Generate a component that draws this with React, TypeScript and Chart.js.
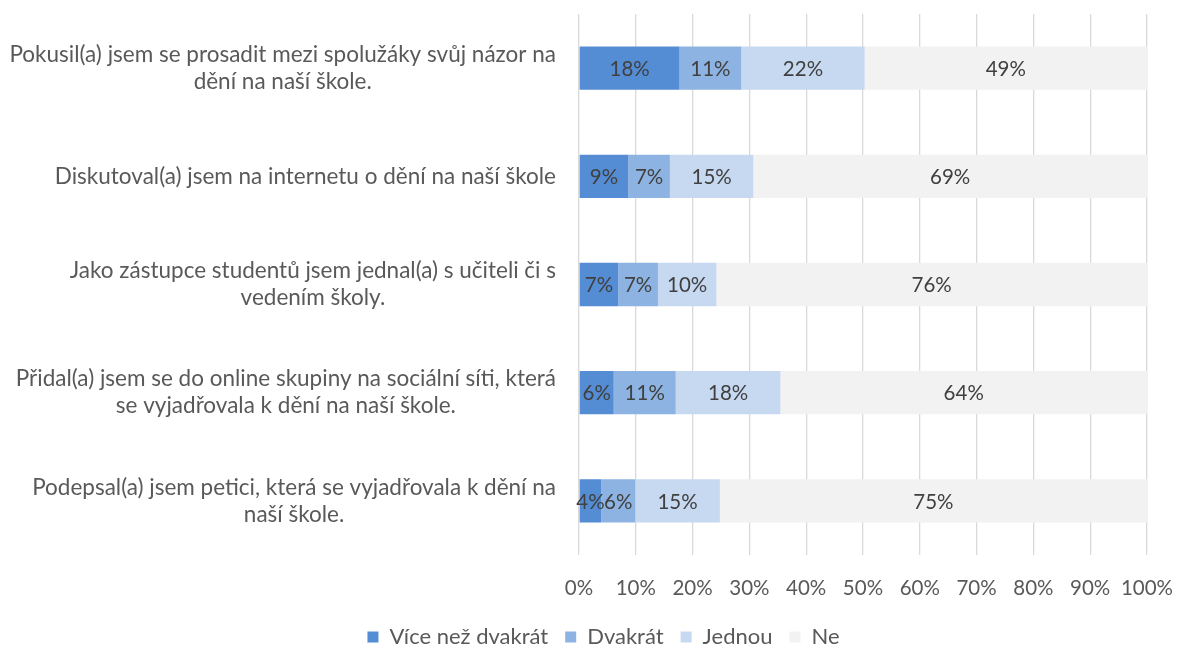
import React, { useEffect, useRef } from 'react';
import { Chart, registerables } from 'chart.js';

Chart.register(...registerables);

// Category labels (already wrapped as in the reference)
const categories: string[][] = [
  ['Pokusil(a) jsem se prosadit mezi spolužáky svůj názor na', 'dění na naší škole.'],
  ['Diskutoval(a) jsem na internetu o dění na naší škole'],
  ['Jako zástupce studentů jsem jednal(a) s učiteli či s', 'vedením školy.'],
  ['Přidal(a) jsem se do online skupiny na sociální síti, která', 'se vyjadřovala k dění na naší škole.'],
  ['Podepsal(a) jsem petici, která se vyjadřovala k dění na', 'naší škole.'],
];

const seriesNames = ['Více než dvakrát', 'Dvakrát', 'Jednou', 'Ne'];

// Percentages per category
const viceNezDvakrat = [17.6, 8.7, 6.9, 6.1, 3.9];
const dvakrat = [10.8, 7.3, 7.0, 10.9, 6.0];
const jednou = [21.6, 14.7, 10.3, 18.4, 14.9];
const ne = [49.4, 69.3, 75.8, 64.4, 75.2];

const seriesColors = ['#548DD4', '#8DB3E2', '#C6D9F1', '#F2F2F2'];

const xTickValues = [0, 10, 20, 30, 40, 50, 60, 70, 80, 90, 100];

const FONT = 'Lato, Carlito, Calibri, sans-serif';
const CAT_FS = 22.5;
const NUM_FS = 20.5;
const LEG_FS = 22;

const rawSeries = [viceNezDvakrat, dvakrat, jednou, ne];
const rowTotals = categories.map((_, i) => rawSeries.reduce((s, arr) => s + arr[i], 0));

const yLabelPlugin = {
  id: 'yLabelsCustom',
  afterDraw(chart: any) {
    const ctx = chart.ctx as CanvasRenderingContext2D;
    const y = chart.scales.y;
    const x = chart.scales.x;
    ctx.save();
    ctx.font = `${CAT_FS}px ${FONT}`;
    ctx.fillStyle = '#595959';
    ctx.textAlign = 'center';
    ctx.textBaseline = 'middle';
    const LH = 27;
    const rightEdge = x.left - 23;
    categories.forEach((lines, i) => {
      const cy = y.getPixelForValue(i);
      const widths = lines.map((l) => ctx.measureText(l).width);
      const bw = Math.max(...widths);
      const cx = rightEdge - bw / 2;
      lines.forEach((l, j) => {
        ctx.fillText(l, cx, cy + (j - (lines.length - 1) / 2) * LH);
      });
    });
    ctx.restore();
  },
};

const dataLabelPlugin = {
  id: 'dataLabelsCustom',
  afterDatasetsDraw(chart: any) {
    const ctx = chart.ctx as CanvasRenderingContext2D;
    ctx.save();
    ctx.font = `${NUM_FS}px ${FONT}`;
    ctx.fillStyle = '#404040';
    ctx.textAlign = 'center';
    ctx.textBaseline = 'middle';
    chart.data.datasets.forEach((ds: any, di: number) => {
      const meta = chart.getDatasetMeta(di);
      meta.data.forEach((el: any, i: number) => {
        const raw = rawSeries[di][i];
        const cx = (el.x + el.base) / 2;
        ctx.fillText(`${Math.round(raw)}%`, cx, el.y + 1);
      });
    });
    ctx.restore();
  },
};

export default function App() {
  const ref = useRef<HTMLCanvasElement | null>(null);
  useEffect(() => {
    if (!ref.current) return;
    const chart = new Chart(ref.current, {
      type: 'bar',
      data: {
        labels: categories.map((c) => c.join(' ')),
        datasets: rawSeries.map((arr, si) => ({
          label: seriesNames[si],
          data: arr.map((v, i) => (v / rowTotals[i]) * 100),
          backgroundColor: seriesColors[si],
          borderWidth: 0,
          categoryPercentage: 1,
          barPercentage: 0.4,
        })),
      },
      options: {
        indexAxis: 'y',
        responsive: false,
        animation: false,
        maintainAspectRatio: false,
        layout: { padding: { top: 14, right: 18, bottom: -6, left: 44 } },
        scales: {
          x: {
            stacked: true,
            min: 0,
            max: 100,
            afterBuildTicks: (scale: any) => {
              scale.ticks = xTickValues.map((v) => ({ value: v }));
            },
            ticks: {
              callback: (v: any) => `${v}%`,
              font: { family: FONT, size: NUM_FS },
              color: '#595959',
              padding: 8,
              maxRotation: 0,
              autoSkip: false,
            },
            grid: {
              color: '#D9D9D9',
              lineWidth: 1.3,
              drawTicks: true,
              tickLength: 13,
              tickColor: 'rgba(0,0,0,0)',
            },
            border: { display: false },
            afterFit: (scale: any) => {
              scale.height = 54;
            },
          },
          y: {
            stacked: true,
            ticks: { display: false },
            grid: { display: false },
            border: { display: false },
            afterFit: (scale: any) => {
              scale.width = 535;
            },
          },
        },
        plugins: {
          legend: {
            position: 'bottom',
            labels: {
              font: { family: FONT, size: LEG_FS },
              color: '#595959',
              boxWidth: 11,
              boxHeight: 11,
              padding: 17,
            },
          },
          tooltip: { enabled: false },
        },
      },
      plugins: [yLabelPlugin, dataLabelPlugin],
    } as any);
    return () => chart.destroy();
  }, []);
  return (
    <div style={{ position: 'fixed', left: 0, top: 0, width: 1181, height: 652, background: '#fff' }}>
      <canvas ref={ref} width={1181} height={652} style={{ width: 1181, height: 652, display: 'block' }} />
    </div>
  );
}
